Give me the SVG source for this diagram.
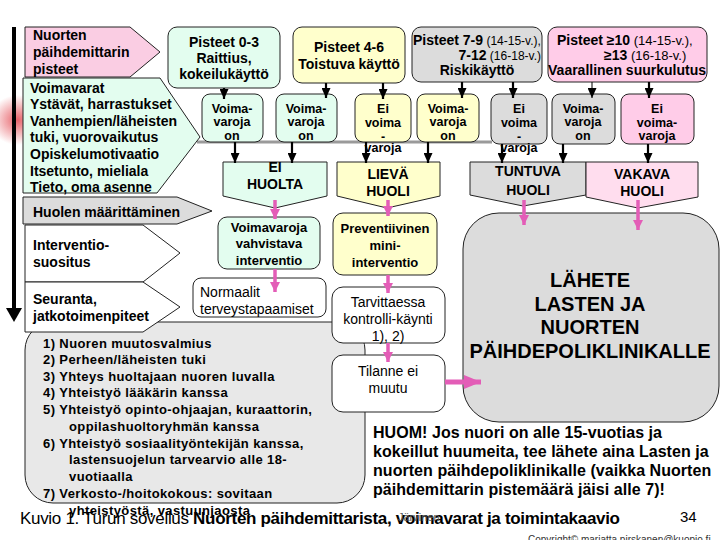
<svg xmlns="http://www.w3.org/2000/svg" width="720" height="540" viewBox="0 0 720 540">
<defs>
<style>
text{font-family:"Liberation Sans",Arial,sans-serif;fill:#000}
.b{font-weight:bold}
.c{text-anchor:middle}
.e{text-anchor:end}
.s{stroke:#222;stroke-width:1}
.g{fill:#E3FDEF}
.y{fill:#FFFFCC}
.gr{fill:#DCDCDC}
.p{fill:#FFCCE8}
.pl{fill:#FFDDEE}
.w{fill:#FFFFFF}
.f14{font-size:14px}
.f13{font-size:13px}
.f125{font-size:12.5px}
.li{font-size:13px;font-weight:bold;letter-spacing:0.4px}
.hu{font-size:16px;font-weight:bold;letter-spacing:0.05px}
.n14{font-size:14px;font-weight:normal}
.ab{stroke:#000;stroke-width:2.2;fill:none}
.ap{stroke:#E35DB7;stroke-width:3.5;fill:none}
</style>
<marker id="mb" markerUnits="userSpaceOnUse" markerWidth="10" markerHeight="9" refX="10" refY="4.5" orient="auto"><path d="M0,0 L10,4.5 L0,9 z" fill="#000"/></marker>
<marker id="mp" markerUnits="userSpaceOnUse" markerWidth="10" markerHeight="10" refX="10" refY="5" orient="auto"><path d="M0,0 L10,5 L0,10 z" fill="#E35DB7"/></marker>
<marker id="mpb" markerUnits="userSpaceOnUse" markerWidth="17" markerHeight="14" refX="17" refY="7" orient="auto"><path d="M0,0 L17,7 L0,14 z" fill="#E35DB7"/></marker>
<radialGradient id="glow" cx="0.5" cy="0.5" r="0.5"><stop offset="0" stop-color="#E0303A" stop-opacity="0.75"/><stop offset="1" stop-color="#E0303A" stop-opacity="0"/></radialGradient>
</defs>
<rect x="0" y="0" width="720" height="540" fill="#fff"/>
<rect x="-10" y="95" width="55" height="50" fill="url(#glow)"/>
<g id="timeline">
<rect x="12" y="27" width="4" height="283" fill="#000"/>
<path d="M6,308 L22,308 L14,322 z" fill="#000"/>
</g>
<line x1="197" y1="142" x2="492" y2="142" stroke="#9a9a9a" stroke-width="3"/>

<g id="pisteet-label">
<polygon class="s" points="25,27 130,27 160,52 130,77 25,77" style="fill:#FACDE3"/>
<text class="b f14" x="33" y="40">Nuorten</text>
<text class="b f14" x="33" y="57">päihdemittarin</text>
<text class="b f14" x="33" y="74">pisteet</text>
</g>
<g id="voimavarat-label">
<polygon class="g s" points="23,78 160,78 200,137 157,193 23,193"/>
<text class="b f14" x="30" y="93">Voimavarat</text>
<text class="b f14" x="30" y="109">Ystävät, harrastukset</text>
<text class="b f14" x="30" y="126">Vanhempien/läheisten</text>
<text class="b f14" x="30" y="142">tuki, vuorovaikutus</text>
<text class="b f14" x="30" y="159">Opiskelumotivaatio</text>
<text class="b f14" x="30" y="176">Itsetunto, mieliala</text>
<text class="b f14" x="30" y="192">Tieto, oma asenne</text>
</g>
<g id="huoli-label">
<polygon class="gr s" points="23,197 177,197 212,211 177,224 23,224"/>
<text class="b f14" x="33" y="217">Huolen määrittäminen</text>
</g>
<g id="interventio-label">
<polygon class="w s" points="25,225 143,225 180,253 143,282 25,282"/>
<text class="b f14" x="33" y="250">Interventio-</text>
<text class="b f14" x="33" y="267">suositus</text>
</g>

<g id="lista">
<rect class="s" x="25" y="322" width="340" height="181" rx="28" fill="#E8E8E8"/>
<text class="li" x="43" y="348">1) Nuoren muutosvalmius</text>
<text class="li" x="43" y="364">2) Perheen/läheisten tuki</text>
<text class="li" x="43" y="381">3) Yhteys huoltajaan nuoren luvalla</text>
<text class="li" x="43" y="397">4) Yhteistyö lääkärin kanssa</text>
<text class="li" x="43" y="414">5) Yhteistyö opinto-ohjaajan, kuraattorin,</text>
<text class="li" x="69" y="431">oppilashuoltoryhmän kanssa</text>
<text class="li" x="43" y="448">6) Yhteistyö sosiaalityöntekijän kanssa,</text>
<text class="li" x="69" y="464">lastensuojelun tarvearvio alle 18-</text>
<text class="li" x="69" y="481">vuotiaalla</text>
<text class="li" x="43" y="498">7) Verkosto-/hoitokokous: sovitaan</text>
<text class="li" x="69" y="515">yhteistyöstä, vastuunjaosta</text>
</g>
<g id="seuranta-label">
<polygon class="w s" points="25,282 143,282 180,307 143,332 25,332"/>
<text class="b f14" x="33" y="304">Seuranta,</text>
<text class="b f14" x="33" y="321">jatkotoimenpiteet</text>
</g>

<g id="p03">
<rect class="g s" x="168" y="27" width="112" height="61" rx="9"/>
<text class="b f14 c" x="224" y="47">Pisteet 0-3</text>
<text class="b f14 c" x="224" y="63">Raittius,</text>
<text class="b f14 c" x="224" y="79">kokeilukäyttö</text>
</g>
<g id="p46">
<rect class="y s" x="293" y="27" width="112" height="56" rx="9"/>
<text class="b f14 c" x="349" y="52">Pisteet 4-6</text>
<text class="b f14 c" x="349" y="69">Toistuva käyttö</text>
</g>
<g id="p79">
<rect class="gr s" x="412" y="27" width="130" height="55" rx="9"/>
<text x="413" y="45" class="f14"><tspan class="b">Pisteet 7-9</tspan><tspan style="font-size:12px"> (14-15-v.),</tspan></text>
<text x="541" y="60" class="f14 e"><tspan class="b">7-12</tspan><tspan style="font-size:12px"> (16-18-v.)</tspan></text>
<text class="b f14 c" x="477" y="75">Riskikäyttö</text>
</g>
<g id="p10">
<rect class="p s" x="548" y="27" width="159" height="55" rx="9"/>
<text x="557" y="45" class="f14"><tspan class="b">Pisteet ≥10</tspan><tspan style="font-size:13px"> (14-15-v.),</tspan></text>
<text x="604" y="60" class="f14"><tspan class="b">≥13</tspan><tspan style="font-size:13px"> (16-18-v.)</tspan></text>
<text class="b f14 c" x="627" y="75">Vaarallinen suurkulutus</text>
</g>

<g id="v1">
<rect class="g s" x="202" y="94" width="61" height="48" rx="8"/>
<text class="b f125 c" x="232" y="113">Voima-</text>
<text class="b f125 c" x="232" y="126">varoja</text>
<text class="b f125 c" x="232" y="140">on</text>
</g>
<g id="v2">
<rect class="g s" x="276" y="94" width="61" height="48" rx="8"/>
<text class="b f125 c" x="306" y="113">Voima-</text>
<text class="b f125 c" x="306" y="126">varoja</text>
<text class="b f125 c" x="306" y="140">on</text>
</g>
<g id="v3">
<rect class="y s" x="355" y="94" width="56" height="48" rx="8"/>
<text class="b f125 c" x="383" y="113">Ei</text>
<text class="b f125 c" x="383" y="127">voima</text>
<text class="b f125 c" x="383" y="141">-</text>
<text class="b f125 c" x="383" y="152">varoja</text>
</g>
<g id="v4">
<rect class="y s" x="417" y="94" width="62" height="48" rx="8"/>
<text class="b f125 c" x="448" y="113">Voima-</text>
<text class="b f125 c" x="448" y="126">varoja</text>
<text class="b f125 c" x="448" y="140">on</text>
</g>
<g id="v5">
<rect class="gr s" x="491" y="94" width="56" height="50" rx="8"/>
<text class="b f125 c" x="519" y="113">Ei</text>
<text class="b f125 c" x="519" y="127">voima</text>
<text class="b f125 c" x="519" y="141">-</text>
<text class="b f125 c" x="519" y="152">varoja</text>
</g>
<g id="v6">
<rect class="gr s" x="552" y="94" width="63" height="50" rx="8"/>
<text class="b f125 c" x="583" y="113">Voima-</text>
<text class="b f125 c" x="583" y="126">varoja</text>
<text class="b f125 c" x="583" y="140">on</text>
</g>
<g id="v7">
<rect class="p s" x="621" y="94" width="73" height="50" rx="8"/>
<text class="b f125 c" x="657" y="113">Ei</text>
<text class="b f125 c" x="657" y="127">voima-</text>
<text class="b f125 c" x="657" y="140">varoja</text>
</g>

<g id="ei-huolta">
<polygon class="g s" points="223,162 327,162 327,196 275,208 223,196"/>
<text class="b f14 c" x="275" y="172">EI</text>
<text class="b f14 c" x="275" y="189">HUOLTA</text>
</g>
<g id="lieva">
<polygon class="y s" points="337,162 440,162 440,196 387,208 337,196"/>
<text class="b f14 c" x="388" y="179">LIEVÄ</text>
<text class="b f14 c" x="388" y="196">HUOLI</text>
</g>
<g id="tuntuva">
<polygon class="gr s" points="470,162 586,162 586,195 523,206 470,195"/>
<text class="b f14 c" x="528" y="176">TUNTUVA</text>
<text class="b f14 c" x="528" y="195">HUOLI</text>
</g>
<g id="vakava">
<polygon class="pl s" points="586,162 698,162 698,197 638,208 586,197"/>
<text class="b f14 c" x="642" y="179">VAKAVA</text>
<text class="b f14 c" x="642" y="196">HUOLI</text>
</g>

<g id="vahvistava">
<rect class="g s" x="218" y="217" width="102" height="52" rx="9"/>
<text class="b f13 c" x="269" y="232">Voimavaroja</text>
<text class="b f13 c" x="269" y="248">vahvistava</text>
<text class="b f13 c" x="269" y="265">interventio</text>
</g>
<g id="normaalit">
<rect class="w s" x="193" y="278" width="133" height="39" rx="8"/>
<text class="n14" x="200" y="297">Normaalit</text>
<text class="n14" x="200" y="314">terveystapaamiset</text>
</g>
<g id="preventiivinen">
<rect class="y s" x="333" y="213" width="104" height="62" rx="10"/>
<text class="b f13 c" x="385" y="233">Preventiivinen</text>
<text class="b f13 c" x="385" y="250">mini-</text>
<text class="b f13 c" x="385" y="267">interventio</text>
</g>
<g id="kontrolli">
<rect class="w s" x="332" y="287" width="113" height="56" rx="11"/>
<text class="n14 c" x="388" y="307">Tarvittaessa</text>
<text class="n14 c" x="388" y="324">kontrolli-käynti</text>
<text class="n14 c" x="388" y="341">1), 2)</text>
</g>
<g id="tilanne">
<rect class="w s" x="332" y="355" width="113" height="57" rx="11"/>
<text class="n14 c" x="388" y="376">Tilanne ei</text>
<text class="n14 c" x="388" y="393">muutu</text>
</g>
<g id="lahete">
<rect class="gr s" x="463" y="213" width="256" height="209" rx="36"/>
<text class="b c" style="font-size:20px" x="590" y="287">LÄHETE</text>
<text class="b c" style="font-size:20px" x="590" y="311">LASTEN JA</text>
<text class="b c" style="font-size:20px" x="590" y="334">NUORTEN</text>
<text class="b c" style="font-size:20px" x="590" y="358">PÄIHDEPOLIKLINIKALLE</text>
</g>

<g id="connectors">
<line class="ab" x1="224" y1="88" x2="224" y2="99" marker-end="url(#mb)"/>
<line class="ab" x1="326" y1="83" x2="326" y2="98" marker-end="url(#mb)"/>
<line class="ab" x1="383" y1="83" x2="383" y2="99" marker-end="url(#mb)"/>
<line class="ab" x1="462" y1="82" x2="462" y2="98" marker-end="url(#mb)"/>
<line class="ab" x1="513" y1="82" x2="513" y2="98" marker-end="url(#mb)"/>
<line x1="592" y1="82" x2="592" y2="98" stroke="#000" stroke-width="1" marker-end="url(#mb)"/>
<line class="ab" x1="649" y1="82" x2="649" y2="98" marker-end="url(#mb)"/>
<line class="ab" x1="235" y1="142" x2="235" y2="163" marker-end="url(#mb)"/>
<line class="ab" x1="292" y1="142" x2="292" y2="163" marker-end="url(#mb)"/>
<line class="ab" x1="366" y1="142" x2="366" y2="163" marker-end="url(#mb)"/>
<line class="ab" x1="428" y1="142" x2="428" y2="163" marker-end="url(#mb)"/>
<line class="ab" x1="502" y1="144" x2="502" y2="163" marker-end="url(#mb)"/>
<line class="ab" x1="563" y1="144" x2="563" y2="163" marker-end="url(#mb)"/>
<line class="ab" x1="648" y1="144" x2="648" y2="163" marker-end="url(#mb)"/>
<line class="ap" x1="275" y1="200" x2="275" y2="219" marker-end="url(#mp)"/>
<line class="ap" x1="275" y1="269" x2="275" y2="292" marker-end="url(#mp)"/>
<line class="ap" x1="388" y1="200" x2="388" y2="216" marker-end="url(#mp)"/>
<line class="ap" x1="388" y1="275" x2="388" y2="293" marker-end="url(#mp)"/>
<line class="ap" x1="388" y1="343" x2="388" y2="362" marker-end="url(#mp)"/>
<line class="ap" x1="524" y1="200" x2="524" y2="225" marker-end="url(#mp)"/>
<line class="ap" x1="638" y1="200" x2="638" y2="230" marker-end="url(#mp)"/>
<line class="ap" style="stroke-width:5" x1="445" y1="382" x2="481" y2="382" marker-end="url(#mpb)"/>
</g>

<g id="huom">
<text class="hu" x="373" y="438">HUOM! Jos nuori on alle 15-vuotias ja</text>
<text class="hu" x="373" y="457">kokeillut huumeita, tee lähete aina Lasten ja</text>
<text class="hu" x="373" y="476">nuorten päihdepoliklinikalle (vaikka Nuorten</text>
<text class="hu" x="373" y="495">päihdemittarin pistemäärä jäisi alle 7)!</text>
</g>

<g id="caption">
<text x="20" y="524" style="font-size:17px" textLength="600" lengthAdjust="spacing">Kuvio 1. Turun sovellus <tspan class="b">Nuorten päihdemittarista, voimavarat ja toimintakaavio</tspan></text>
<text x="398" y="521" style="font-size:11px;fill:#555">Järvinen</text>
<text x="680" y="522" style="font-size:15px">34</text>
<text x="528" y="543" style="font-size:10px;fill:#333">Copyright© marjatta.pirskanen@kuopio.fi</text>
</g>
</svg>
